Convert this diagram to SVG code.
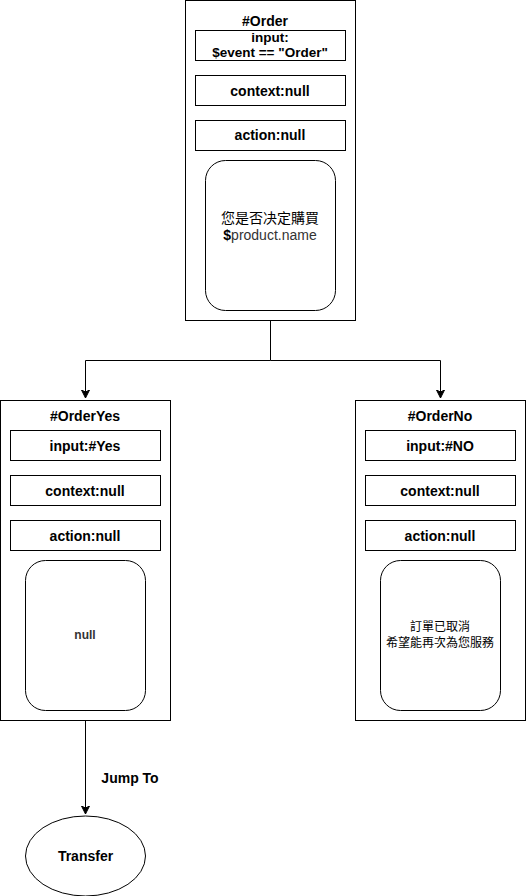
<svg xmlns="http://www.w3.org/2000/svg" width="526" height="896" viewBox="0 0 526 896">
<defs>
<marker id="tri" markerWidth="9" markerHeight="9" refX="8" refY="4.5" orient="auto" markerUnits="userSpaceOnUse">
<path d="M0,0.5 L8,4.5 L0,8.5 L2,4.5 Z" fill="#000" stroke="#000" stroke-width="1"/>
</marker>
</defs>
<style>
.box{fill:#fff;stroke:#000;stroke-width:1}
.rr{fill:#fff;stroke:#000;stroke-width:1}
.t{font-family:"Liberation Sans",Arial,"Noto Sans CJK TC",sans-serif;font-size:14px;font-weight:bold;fill:#000;text-anchor:middle}
.c{font-family:"Liberation Sans",Arial,"Noto Sans CJK TC",sans-serif;font-size:14px;fill:#000;text-anchor:middle}
.line{fill:none;stroke:#000;stroke-width:1}
</style>
<rect width="526" height="896" fill="#fff"/>
<g id="connectors">
<path class="line" d="M270.5,320.5 V360.5 H85.5 V398" marker-end="url(#tri)"/>
<path class="line" d="M270.5,360.5 H440.5 V398" marker-end="url(#tri)"/>
<path class="line" d="M85.5,720.5 V814" marker-end="url(#tri)"/>
<text class="t" x="130" y="783">Jump To</text>
</g>
<g id="Order">
<rect class="box" x="185.5" y="0.5" width="170" height="320"/>
<text class="t" x="265" y="26">#Order</text>
<rect class="box" x="195.5" y="30.5" width="150" height="30"/>
<text class="t" x="270" y="42" style="font-size:13.5px">input:</text>
<text class="t" x="270" y="57" style="font-size:13.5px">$event == "Order"</text>
<rect class="box" x="195.5" y="75.5" width="150" height="30"/>
<text class="t" x="270" y="96">context:null</text>
<rect class="box" x="195.5" y="120.5" width="150" height="30"/>
<text class="t" x="270" y="140">action:null</text>
<rect class="rr" x="205.5" y="160.5" width="130" height="150" rx="20" ry="20"/>
<text class="c" x="270" y="223">您是否决定購買</text>
<text class="c" x="270" y="240"><tspan font-weight="bold" fill="#000">$</tspan><tspan fill="#333">product.name</tspan></text>
</g>
<g id="OrderYes">
<rect class="box" x="0.5" y="400.5" width="170" height="320"/>
<text class="t" x="85" y="421">#OrderYes</text>
<rect class="box" x="10.5" y="430.5" width="150" height="30"/>
<text class="t" x="85" y="451">input:#Yes</text>
<rect class="box" x="10.5" y="475.5" width="150" height="30"/>
<text class="t" x="85" y="496">context:null</text>
<rect class="box" x="10.5" y="520.5" width="150" height="30"/>
<text class="t" x="85" y="541">action:null</text>
<rect class="rr" x="25.5" y="560.5" width="120" height="150" rx="20" ry="20"/>
<text class="t" x="85" y="639" style="font-size:12px;fill:#333">null</text>
</g>
<g id="OrderNo">
<rect class="box" x="355.5" y="400.5" width="170" height="320"/>
<text class="t" x="440" y="421">#OrderNo</text>
<rect class="box" x="365.5" y="430.5" width="150" height="30"/>
<text class="t" x="440" y="451">input:#NO</text>
<rect class="box" x="365.5" y="475.5" width="150" height="30"/>
<text class="t" x="440" y="496">context:null</text>
<rect class="box" x="365.5" y="520.5" width="150" height="30"/>
<text class="t" x="440" y="541">action:null</text>
<rect class="rr" x="380.5" y="560.5" width="120" height="150" rx="20" ry="20"/>
<text class="c" x="440" y="631" style="font-size:12px">訂單已取消</text>
<text class="c" x="440" y="647" style="font-size:12px">希望能再次為您服務</text>
</g>
<g id="Transfer">
<ellipse class="box" cx="85.5" cy="856" rx="60" ry="40"/>
<text class="t" x="85.5" y="861">Transfer</text>
</g>
</svg>
